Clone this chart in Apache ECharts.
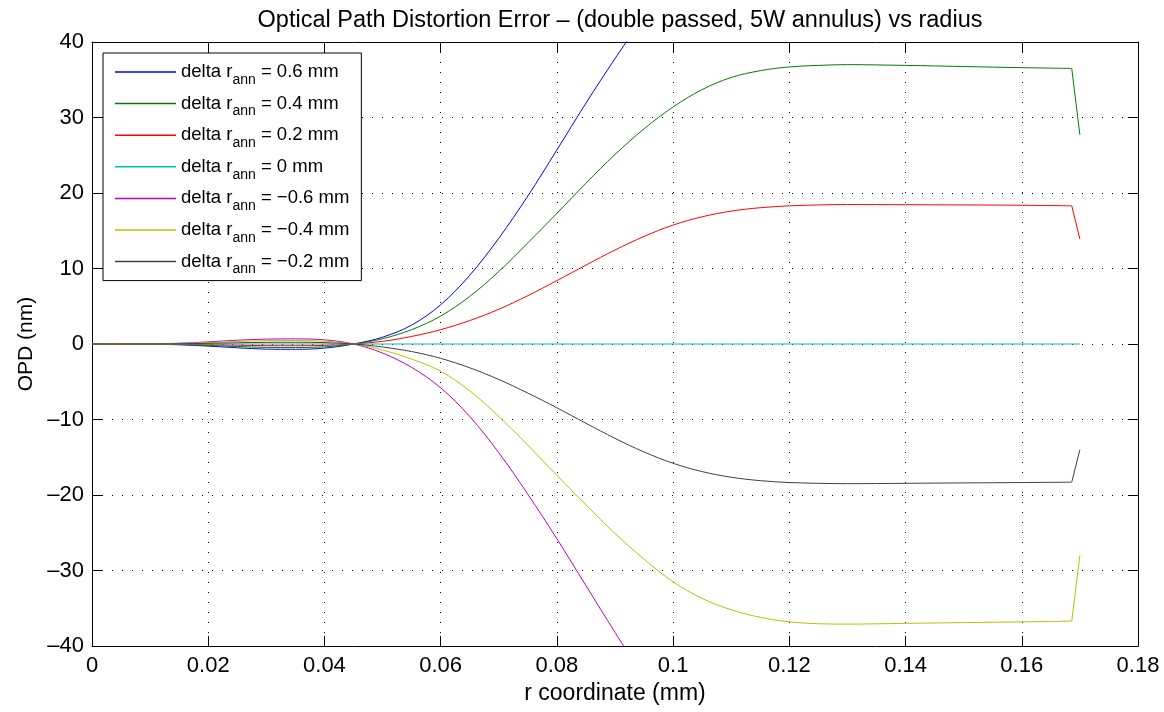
<!DOCTYPE html>
<html>
<head>
<meta charset="utf-8">
<script src="https://cdn.jsdelivr.net/npm/echarts@6/dist/echarts.min.js"></script>
<style>
  html, body { margin: 0; padding: 0; background: #fff; }
  #chart { width: 1164px; height: 712px; }
</style>
</head>
<body>
<div id="chart"></div>
<script>
// Radial sample positions (mm)
const radius = [0, 0.005, 0.01, 0.015, 0.02, 0.025, 0.03, 0.035, 0.04, 0.045,
  0.05, 0.055, 0.06, 0.065, 0.07, 0.075, 0.08, 0.085, 0.09, 0.095,
  0.1, 0.105, 0.11, 0.115, 0.12, 0.125, 0.13, 0.14, 0.15, 0.16, 0.1686, 0.17];

// OPD (nm) for each annulus offset
const opdP06 = [0, 0, -0.03, -0.1, -0.28, -0.5, -0.68, -0.7, -0.55, 0,
  0.9, 2.5, 5.2, 9.1, 14.0, 19.6, 25.7, 31.9, 37.8, 43.4,
  null, null, null, null, null, null, null, null, null, null, null, null];
const opdP04 = [0, 0, -0.02, -0.07, -0.19, -0.33, -0.45, -0.47, -0.37, 0,
  0.7, 1.9, 3.7, 6.3, 9.6, 13.4, 17.3, 21.3, 25.1, 28.5,
  31.4, 33.7, 35.3, 36.2, 36.7, 36.9, 37.0, 36.9, 36.75, 36.6, 36.5, 27.7];
const opdP02 = [0, 0, -0.01, -0.03, -0.09, -0.16, -0.22, -0.23, -0.18, 0,
  0.35, 1.0, 1.9, 3.1, 4.6, 6.4, 8.4, 10.45, 12.45, 14.25,
  15.75, 16.85, 17.6, 18.05, 18.3, 18.42, 18.47, 18.45, 18.42, 18.38, 18.3, 13.9];
const opdZero = [0, 0, 0, 0, 0, 0, 0, 0, 0, 0,
  0, 0, 0, 0, 0, 0, 0, 0, 0, 0,
  0, 0, 0, 0, 0, 0, 0, 0, 0, 0, 0, 0];
const opdM06 = [0, 0, 0.03, 0.1, 0.28, 0.5, 0.65, 0.68, 0.55, 0,
  -1.2, -3.1, -5.8, -9.6, -14.4, -19.9, -25.8, -32.0, -38.2, -44.2,
  null, null, null, null, null, null, null, null, null, null, null, null];
const opdM04 = [0, 0, 0.02, 0.07, 0.19, 0.33, 0.45, 0.47, 0.37, 0,
  -0.8, -2.0, -3.6, -6.2, -9.6, -13.4, -17.4, -21.3, -25.1, -28.5,
  -31.5, -33.7, -35.2, -36.2, -36.8, -37.05, -37.1, -37.0, -36.9, -36.8, -36.7, -28.0];
const opdM02 = [0, 0, 0.01, 0.03, 0.09, 0.16, 0.22, 0.23, 0.18, 0,
  -0.4, -1.0, -1.9, -3.15, -4.7, -6.5, -8.45, -10.5, -12.5, -14.3,
  -15.8, -16.9, -17.65, -18.1, -18.35, -18.45, -18.5, -18.45, -18.4, -18.35, -18.3, -14.0];

const deltaLabels = ['0.6', '0.4', '0.2', '0', '\u22120.6', '\u22120.4', '\u22120.2'];
const seriesValues = [opdP06, opdP04, opdP02, opdZero, opdM06, opdM04, opdM02];
const seriesColors = ['#0000ff', '#008000', '#ff0000', '#00bfbf', '#bf00bf', '#bfbf00', '#404040'];

const xTicks = { min: 0, max: 0.18, interval: 0.02 };
const yTicks = { min: -40, max: 40, interval: 10 };

const FONT = "'Liberation Sans', Helvetica, Arial, sans-serif";
const dash = v => (v < 0 ? '\u2013' + Math.abs(v) : String(v));

// The edge step at the outer rim is drawn straight; the rest of each profile is smoothed.
const rimStart = radius.length - 2;

const series = [];
deltaLabels.forEach((d, k) => {
  const pts = radius.map((r, i) => [r, seriesValues[k][i]]);
  series.push({
    name: d,
    type: 'line',
    symbol: 'none',
    showSymbol: false,
    smooth: 0.35,
    clip: true,
    z: 2,
    lineStyle: { color: seriesColors[k], width: 1 },
    itemStyle: { color: seriesColors[k] },
    data: pts.slice(0, rimStart + 1)
  });
  const rim = pts.slice(rimStart);
  if (rim.every(p => p[1] !== null)) {
    series.push({
      name: d + ' rim',
      type: 'line',
      symbol: 'none',
      showSymbol: false,
      smooth: false,
      clip: true,
      z: 2,
      lineStyle: { color: seriesColors[k], width: 1 },
      itemStyle: { color: seriesColors[k] },
      data: rim
    });
  }
});

const chart = echarts.init(document.getElementById('chart'));
chart.setOption({
  backgroundColor: '#fff',
  animation: false,
  textStyle: { fontFamily: FONT },
  title: {
    text: 'Optical Path Distortion Error \u2013 (double passed, 5W annulus) vs radius',
    left: 615,
    textAlign: 'center',
    top: 4,
    textStyle: { fontFamily: FONT, fontSize: 23.5, fontWeight: 'normal', color: '#000' }
  },
  grid: { left: 92, right: 26, top: 42, bottom: 66, containLabel: false },
  legend: {
    orient: 'vertical',
    left: 103,
    top: 53,
    selectedMode: false,
    backgroundColor: '#fff',
    borderColor: '#000',
    borderWidth: 1,
    padding: [4, 12, 4, 12],
    icon: 'rect',
    itemWidth: 61,
    itemHeight: 1.5,
    itemGap: 1.6,
    data: deltaLabels,
    formatter: name => 'delta r{s|ann} = ' + name + ' mm',
    textStyle: {
      fontFamily: FONT,
      fontSize: 18.5,
      color: '#000',
      lineHeight: 30,
      rich: {
        s: { fontFamily: FONT, fontSize: 14, color: '#000', verticalAlign: 'bottom', lineHeight: 14 }
      }
    }
  },
  xAxis: [{
    type: 'value',
    min: xTicks.min, max: xTicks.max, interval: xTicks.interval,
    name: 'r coordinate (mm)',
    nameLocation: 'middle',
    nameGap: 36,
    nameTextStyle: { fontFamily: FONT, fontSize: 23, color: '#000' },
    axisLine: { show: true, onZero: false, lineStyle: { color: '#000', width: 1 } },
    axisTick: { show: true, inside: true, length: 10, lineStyle: { color: '#000' } },
    axisLabel: { fontFamily: FONT, fontSize: 22, color: '#000', margin: 9 },
    splitLine: { show: true, lineStyle: { color: '#000', width: 1, type: [1, 9] } }
  }, {
    type: 'value', position: 'top',
    min: xTicks.min, max: xTicks.max, interval: xTicks.interval,
    axisLine: { show: true, onZero: false, lineStyle: { color: '#000', width: 1 } },
    axisTick: { show: true, inside: true, length: 10, lineStyle: { color: '#000' } },
    axisLabel: { show: false },
    splitLine: { show: false }
  }],
  yAxis: [{
    type: 'value',
    min: yTicks.min, max: yTicks.max, interval: yTicks.interval,
    name: 'OPD (nm)',
    nameLocation: 'middle',
    nameGap: 54,
    nameTextStyle: { fontFamily: FONT, fontSize: 21, color: '#000' },
    axisLine: { show: true, onZero: false, lineStyle: { color: '#000', width: 1 } },
    axisTick: { show: true, inside: true, length: 10, lineStyle: { color: '#000' } },
    axisLabel: { fontFamily: FONT, fontSize: 22, color: '#000', margin: 8, formatter: dash },
    splitLine: { show: true, lineStyle: { color: '#000', width: 1, type: [1, 9] } }
  }, {
    type: 'value', position: 'right',
    min: yTicks.min, max: yTicks.max, interval: yTicks.interval,
    axisLine: { show: true, onZero: false, lineStyle: { color: '#000', width: 1 } },
    axisTick: { show: true, inside: true, length: 10, lineStyle: { color: '#000' } },
    axisLabel: { show: false },
    splitLine: { show: false }
  }],
  series: series
});
</script>
</body>
</html>
